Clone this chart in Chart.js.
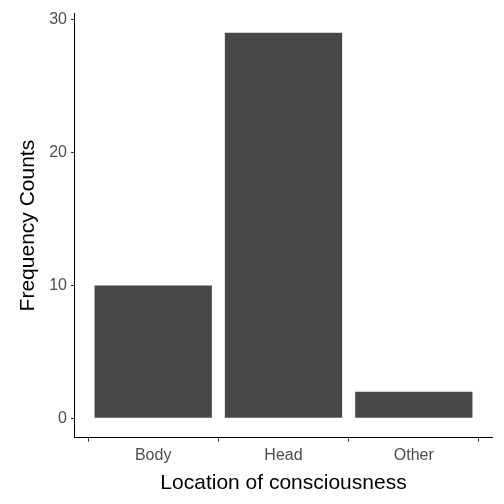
<!DOCTYPE html>
<html>
<head>
<meta charset="utf-8">
<script src="https://cdn.jsdelivr.net/npm/chart.js@4"></script>
<style>
  html, body { margin: 0; padding: 0; background: #fff; }
  #wrap { width: 504px; height: 504px; }
</style>
</head>
<body>
<div id="wrap"><canvas id="c"></canvas></div>
<script>
const categories = ['Body', 'Head', 'Other'];
const counts = [10, 29, 2];
const yTicks = [0, 10, 20, 30];

const points = categories.map((c, i) => ({ x: i + 1, y: counts[i] }));
const FONT = 'Liberation Sans, Arial, sans-serif';

new Chart(document.getElementById('c'), {
  type: 'bar',
  data: {
    datasets: [{
      data: points,
      backgroundColor: '#474747',
      barPercentage: 0.9,
      categoryPercentage: 1.0
    }]
  },
  options: {
    responsive: true,
    maintainAspectRatio: false,
    animation: false,
    layout: { padding: { top: 10, right: 12, left: 12, bottom: 4 } },
    plugins: { legend: { display: false }, tooltip: { enabled: false } },
    scales: {
      x: {
        type: 'linear',
        offset: false,
        min: 0.4,
        max: 3.6,
        afterBuildTicks: axis => { axis.ticks = categories.map((c, i) => ({ value: i + 1 })); },
        grid: { display: true, drawOnChartArea: false, drawTicks: true, tickLength: 4, tickColor: '#333' },
        border: { display: true, color: '#000', width: 1 },
        ticks: {
          color: '#4d4d4d',
          font: { size: 16, family: FONT },
          padding: 4,
          callback: v => categories[v - 1] || ''
        },
        title: { display: true, text: 'Location of consciousness', color: '#000', font: { size: 21, family: FONT }, padding: { top: 2 } }
      },
      y: {
        min: -1.45,
        max: 30.45,
        afterBuildTicks: axis => { axis.ticks = yTicks.map(v => ({ value: v })); },
        grid: { display: true, drawOnChartArea: false, drawTicks: true, tickLength: 4, tickColor: '#333' },
        border: { display: true, color: '#000', width: 1 },
        ticks: { color: '#4d4d4d', font: { size: 16, family: FONT }, padding: 4 },
        title: { display: true, text: 'Frequency Counts', color: '#000', font: { size: 21, family: FONT }, padding: { bottom: 4 } }
      }
    }
  }
});
</script>
</body>
</html>
